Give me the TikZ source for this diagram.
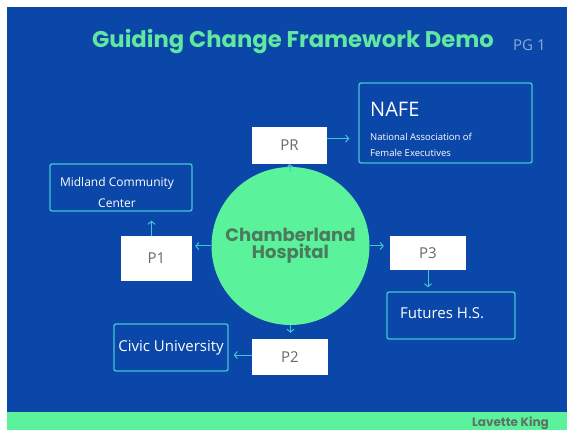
\documentclass[tikz,border=0pt]{standalone}
\usepackage{fontspec}
\setmainfont{Open Sans}
\newfontfamily\headfont{Poppins}
\usetikzlibrary{arrows.meta}
\definecolor{bgblue}{RGB}{10,71,168}
\definecolor{mint}{RGB}{90,242,155}
\definecolor{titlegreen}{RGB}{96,232,160}
\definecolor{linecyan}{RGB}{66,200,212}
\definecolor{hosptext}{RGB}{76,122,92}
\definecolor{boxtext}{RGB}{105,105,105}
\definecolor{pgtext}{RGB}{140,170,215}
\definecolor{signtext}{RGB}{95,112,104}
\begin{document}
\begin{tikzpicture}[x=1pt,y=-1pt]
\tikzset{
    pbox/.style={fill=white, inner sep=0pt, text=boxtext, font=\fontsize{15}{18}\selectfont},
    infobox/.style={draw=linecyan, line width=1.3pt, rounded corners=2pt, inner sep=0pt, text=white},
    boxtextw/.style={inner sep=0pt, text=white},
    link/.style={draw=linecyan, line width=1pt, -{Straight Barb[length=3pt,width=7pt]}},
    hub/.style={circle, fill=mint, inner sep=0pt, text=hosptext, align=center,
        font=\headfont\bfseries\fontsize{18}{20}\selectfont}}
\def\rhosp{158pt}

\useasboundingbox (0,0) rectangle (567,430);
\fill[white] (0,0) rectangle (567,430);
\fill[bgblue] (7,7) rectangle (567,412);
\fill[mint] (7,412) rectangle (567,430);

\node[anchor=base west, text=titlegreen, inner sep=0pt, font=\headfont\bfseries\fontsize{22.7}{26}\selectfont]
    (title) at (92,48) {Guiding Change Framework Demo};
\node[anchor=base west, text=pgtext, inner sep=0pt, font=\fontsize{15}{18}\selectfont]
    (page) at (513,51) {PG 1};
\node[anchor=base east, text=signtext, inner sep=0pt, font=\headfont\bfseries\fontsize{12}{14}\selectfont]
    (sign) at (549,426.5) {Lavette King};

\node[hub, minimum size=\rhosp] (hosp) at (290.5,246) {Chamberland\\[-3pt]Hospital};

\node[pbox, minimum width=75pt, minimum height=37pt] (pr) at (289.5,145.5) {PR};
\node[pbox, minimum width=71pt, minimum height=45pt] (p1) at (156.5,258.5) {P1};
\node[pbox, minimum width=76pt, minimum height=34pt] (p3) at (428,253) {P3};
\node[pbox, minimum width=76pt, minimum height=36pt] (p2) at (290,357) {P2};

\node[infobox, minimum width=173pt, minimum height=80pt] (nafe) at (445.5,123) {};
\node[boxtextw, anchor=base west, font=\fontsize{20}{24}\selectfont] (nafename) at (370,117) {NAFE};
\node[boxtextw, anchor=base west, font=\fontsize{9.5}{12}\selectfont] (nafeline1) at (370,141) {National Association of};
\node[boxtextw, anchor=base west, font=\fontsize{9.5}{12}\selectfont] (nafeline2) at (370,157) {Female Executives};

\node[infobox, minimum width=142pt, minimum height=47pt] (midland) at (121,187.5) {};
\node[boxtextw, align=center, font=\fontsize{12}{21}\selectfont] (midlandtext) at (117,193) {Midland Community\\Center};
\node[infobox, minimum width=128pt, minimum height=47pt] (futures) at (451,315.5) {};
\node[boxtextw, anchor=base west, font=\fontsize{15}{18}\selectfont] (futurestext) at (400,318) {Futures H.S.};
\node[infobox, minimum width=114pt, minimum height=47pt, font=\fontsize{15}{18}\selectfont]
    (civic) at (171,347.5) {Civic University};

\draw[link] ([yshift=-5pt]hosp.north) -- (pr.south);
\draw[link, shorten >=9pt] ([yshift=7pt]pr.east) -- ([yshift=7pt]pr.east -| nafe.west);
\draw[link, shorten >=3pt] (hosp.west) -- (hosp.west -| p1.east);
\draw[link, shorten >=9pt] ([xshift=-5pt]p1.north) -- ([xshift=-5pt]p1.north |- midland.south);
\draw[link, shorten >=6pt] (hosp.east) -- (hosp.east -| p3.west);
\draw[link, shorten >=4pt] (p3.south) -- (p3.south |- futures.north);
\draw[link, shorten >=6pt] (hosp.south) -- (hosp.south |- p2.north);
\draw[link, shorten >=5pt] ([yshift=2pt]p2.west) -- ([yshift=2pt]p2.west -| civic.east);

\end{tikzpicture}
\end{document}
